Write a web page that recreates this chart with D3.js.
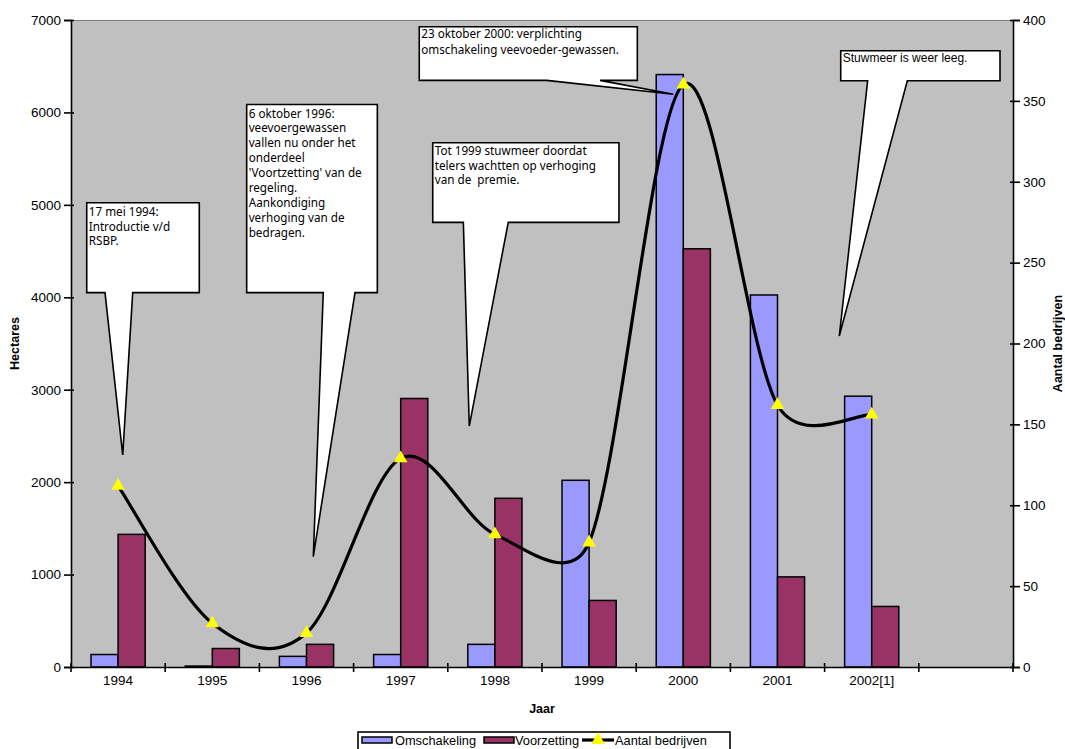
<!DOCTYPE html>
<html>
<head>
<meta charset="utf-8">
<script src="https://cdn.jsdelivr.net/npm/d3@7"></script>
<style>
  html, body { margin: 0; padding: 0; background: #fff; }
  svg { display: block; }
</style>
</head>
<body>
<svg id="chart" width="1065" height="749"></svg>
<script>
// ---- Data -------------------------------------------------------------
const categories = ['1994', '1995', '1996', '1997', '1998', '1999', '2000', '2001', '2002[1]', ''];
const omschakeling = [135, 10, 115, 135, 245, 2020, 6410, 4025, 2930];     // hectares
const voorzetting = [1435, 200, 245, 2905, 1825, 720, 4525, 975, 655];       // hectares
const aantalBedrijven = [112, 27, 21, 129, 82, 77, 360, 162, 156];           // number of farms
const hectareTicks = [0, 1000, 2000, 3000, 4000, 5000, 6000, 7000];
const bedrijvenTicks = [0, 50, 100, 150, 200, 250, 300, 350, 400];
const seriesLabels = ['Omschakeling', 'Voorzetting', 'Aantal bedrijven'];

// ---- Annotations (x in category widths from the left edge, y in hectares)
const callouts = [
  { lines: ['17 mei 1994:', 'Introductie v/d', 'RSBP.'],
    box: [0.167, 1.362, 5023, 4050], base: [0.361, 0.655], tip: [0.549, 2294], lh: 14.8, first: 13, font: 'sans' },
  { lines: ['6 oktober 1996:', 'veevoergewassen', 'vallen nu onder het', 'onderdeel',
            "'Voortzetting' van de", 'regeling.', 'Aankondiging', 'verhoging van de', 'bedragen.'],
    box: [1.865, 3.252, 6085, 4050], base: [2.678, 3.015], tip: [2.572, 1193], lh: 14.9, first: 13, font: 'sans' },
  { lines: ['Tot 1999 stuwmeer doordat', 'telers wachtten op verhoging', 'van de  premie.'],
    box: [3.840, 5.817, 5672, 4811], base: [4.165, 4.642], tip: [4.228, 2607], lh: 14.6, first: 12.5, font: 'sans' },
  { lines: ['23 oktober 2000: verplichting', 'omschakeling veevoeder-gewassen.'],
    box: [3.697, 6.012, 6927, 6347], base: [5.050, 5.616], tip: [6.394, 6196], lh: 16, first: 11.5, font: 'sans' },
  { lines: ['Stuwmeer is weer leeg.'],
    box: [8.171, 9.862, 6668, 6343], base: [8.457, 8.878], tip: [8.156, 3581], lh: 14, first: 11, font: 'arial' }
];

// ---- Layout & style ---------------------------------------------------
const plot = { left: 71, right: 1013, top: 20, bottom: 667 };
const colors = { omschakeling: '#9999FF', voorzetting: '#993366', plotBg: '#C0C0C0', marker: '#FFFF00' };
const arial = "'Liberation Sans', Arial, sans-serif";
const calloutFont = "'Noto Sans', 'DejaVu Sans', sans-serif";

const svg = d3.select('#chart');

// ---- Scales -----------------------------------------------------------
const x = d3.scaleBand().domain(categories).range([plot.left, plot.right]).padding(0);
const bw = x.bandwidth();
const groupW = bw * 0.575;
const x1 = d3.scaleBand().domain(['omschakeling', 'voorzetting'])
  .range([(bw - groupW) / 2, (bw + groupW) / 2]);
const yL = d3.scaleLinear().domain([0, 7000]).range([plot.bottom, plot.top]);
const yR = d3.scaleLinear().domain([0, 400]).range([plot.bottom, plot.top]);
const xu = d3.scaleLinear().domain([0, categories.length]).range([plot.left, plot.right]);

// Smoothed line: cubic Bézier segments with tangents (P[i+1]-P[i-1])/6,
// each control arm limited to half of its segment's length.
function smoothCurve(context) {
  let pts = [];
  return {
    areaStart() {}, areaEnd() {},
    lineStart() { pts = []; },
    point(px, py) { pts.push([+px, +py]); },
    lineEnd() {
      const n = pts.length;
      if (!n) return;
      context.moveTo(pts[0][0], pts[0][1]);
      for (let i = 0; i < n - 1; i++) {
        const p0 = pts[Math.max(i - 1, 0)], p1 = pts[i], p2 = pts[i + 1], p3 = pts[Math.min(i + 2, n - 1)];
        const half = Math.hypot(p2[0] - p1[0], p2[1] - p1[1]) / 2;
        let a = [(p2[0] - p0[0]) / 6, (p2[1] - p0[1]) / 6];
        let b = [(p3[0] - p1[0]) / 6, (p3[1] - p1[1]) / 6];
        const la = Math.hypot(a[0], a[1]), lb = Math.hypot(b[0], b[1]);
        if (la > half) a = a.map(v => v * half / la);
        if (lb > half) b = b.map(v => v * half / lb);
        context.bezierCurveTo(p1[0] + a[0], p1[1] + a[1], p2[0] - b[0], p2[1] - b[1], p2[0], p2[1]);
      }
    }
  };
}

// ---- Plot area ----------------------------------------------------------
svg.append('rect')
  .attr('x', plot.left).attr('y', plot.top)
  .attr('width', plot.right - plot.left).attr('height', plot.bottom - plot.top)
  .attr('fill', colors.plotBg);
svg.append('line')
  .attr('x1', plot.left).attr('x2', plot.right)
  .attr('y1', plot.top + 0.5).attr('y2', plot.top + 0.5)
  .attr('stroke', '#808080').attr('stroke-width', 1);

// ---- Bars ---------------------------------------------------------------
const barData = [];
omschakeling.forEach((v, i) => barData.push({ cat: categories[i], key: 'omschakeling', v }));
voorzetting.forEach((v, i) => barData.push({ cat: categories[i], key: 'voorzetting', v }));

svg.append('g').selectAll('rect').data(barData).join('rect')
  .attr('x', d => x(d.cat) + x1(d.key))
  .attr('width', x1.bandwidth())
  .attr('y', d => yL(d.v))
  .attr('height', d => yL(0) - yL(d.v))
  .attr('fill', d => colors[d.key])
  .attr('stroke', '#000').attr('stroke-width', 1.5);

// ---- Callouts -----------------------------------------------------------
callouts.forEach(c => {
  const L = xu(c.box[0]), R = xu(c.box[1]), T = yL(c.box[2]), B = yL(c.box[3]);
  const b0 = xu(c.base[0]), b1 = xu(c.base[1]);
  const tx = xu(c.tip[0]), ty = yL(c.tip[1]);
  const p = d3.path();
  p.moveTo(L, T); p.lineTo(R, T); p.lineTo(R, B); p.lineTo(b1, B);
  p.lineTo(tx, ty); p.lineTo(b0, B); p.lineTo(L, B); p.closePath();
  svg.append('path').attr('d', p.toString())
    .attr('fill', '#fff').attr('stroke', '#000').attr('stroke-width', 1.6)
    .attr('stroke-linejoin', 'miter');
  const t = svg.append('text')
    .attr('font-family', c.font === 'arial' ? arial : calloutFont)
    .attr('font-size', c.font === 'arial' ? 12 : 11.7)
    .attr('fill', '#000');
  c.lines.forEach((ln, i) => {
    t.append('tspan').attr('x', L + 2).attr('y', T + c.first + i * c.lh)
      .style('white-space', 'pre').text(ln);
  });
});

// ---- Line series --------------------------------------------------------
const pts = aantalBedrijven.map((v, i) => [x(categories[i]) + bw / 2, yR(v)]);
svg.append('path')
  .attr('d', d3.line().curve(smoothCurve)(pts))
  .attr('fill', 'none').attr('stroke', '#000').attr('stroke-width', 3.2)
  .attr('stroke-linejoin', 'round').attr('stroke-linecap', 'round');

const tri = d3.symbol().type(d3.symbolTriangle).size(80);
svg.append('g').selectAll('path').data(pts).join('path')
  .attr('transform', d => `translate(${d[0]},${d[1]})`)
  .attr('d', tri).attr('fill', colors.marker);

// ---- Axes ---------------------------------------------------------------
function styleAxis(g, inner, outer, sign) {
  g.select('.domain').attr('stroke', '#000').attr('stroke-width', 1.6);
  g.selectAll('.tick line').attr('stroke', '#000').attr('stroke-width', 1.6)
    .attr('x1', sign * inner).attr('x2', -sign * outer);
  g.selectAll('.tick text').attr('font-family', arial).attr('font-size', 13.5).attr('fill', '#000');
}

const gL = svg.append('g').attr('transform', `translate(${plot.left},0)`)
  .call(d3.axisLeft(yL).tickValues(hectareTicks).tickFormat(d3.format('d'))
    .tickSizeOuter(0).tickSize(7).tickPadding(3));
styleAxis(gL, 3, 7, 1);

const gR = svg.append('g').attr('transform', `translate(${plot.right},0)`)
  .call(d3.axisRight(yR).tickValues(bedrijvenTicks).tickFormat(d3.format('d'))
    .tickSizeOuter(0).tickSize(7).tickPadding(3));
styleAxis(gR, 3, 7, -1);

const gB = svg.append('g').attr('transform', `translate(0,${plot.bottom})`)
  .call(d3.axisBottom(x).tickSize(0).tickSizeOuter(0).tickPadding(18));
gB.select('.domain').attr('stroke', '#000').attr('stroke-width', 1.6);
gB.selectAll('.tick line').remove();
gB.selectAll('.tick text').attr('font-family', arial).attr('font-size', 13.5).attr('fill', '#000')
  .attr('dy', 0);
// tick marks on the category boundaries
gB.append('g').selectAll('line').data(d3.range(categories.length + 1)).join('line')
  .attr('x1', d => xu(d)).attr('x2', d => xu(d))
  .attr('y1', -4).attr('y2', 5)
  .attr('stroke', '#000').attr('stroke-width', 1.6);

// ---- Axis titles ------------------------------------------------------------
const midY = (plot.top + plot.bottom) / 2;
svg.append('text')
  .attr('transform', `translate(19,${midY}) rotate(-90)`)
  .attr('text-anchor', 'middle').attr('font-family', arial).attr('font-weight', 'bold')
  .attr('font-size', 12.5).text('Hectares');
svg.append('text')
  .attr('transform', `translate(1062,${midY}) rotate(-90)`)
  .attr('text-anchor', 'middle').attr('font-family', arial).attr('font-weight', 'bold')
  .attr('font-size', 12.5).text('Aantal bedrijven');
svg.append('text')
  .attr('x', (plot.left + plot.right) / 2).attr('y', 713)
  .attr('text-anchor', 'middle').attr('font-family', arial).attr('font-weight', 'bold')
  .attr('font-size', 12.5).text('Jaar');

// ---- Legend -------------------------------------------------------------
const legend = svg.append('g').attr('transform', 'translate(358,732)');
legend.append('rect').attr('x', 0).attr('y', 0).attr('width', 372).attr('height', 22)
  .attr('fill', '#fff').attr('stroke', '#000').attr('stroke-width', 1.6);
const legendItems = [
  { label: seriesLabels[0], kind: 'bar', color: colors.omschakeling, sx: 4, tx: 37 },
  { label: seriesLabels[1], kind: 'bar', color: colors.voorzetting, sx: 126, tx: 157 },
  { label: seriesLabels[2], kind: 'line', sx: 224, tx: 257 }
];
legendItems.forEach(it => {
  if (it.kind === 'bar') {
    legend.append('rect').attr('x', it.sx).attr('y', 5).attr('width', 30).attr('height', 6)
      .attr('fill', it.color).attr('stroke', '#000').attr('stroke-width', 1.5);
  } else {
    legend.append('line').attr('x1', it.sx).attr('x2', it.sx + 32).attr('y1', 8).attr('y2', 8)
      .attr('stroke', '#000').attr('stroke-width', 3.2);
    legend.append('path').attr('transform', `translate(${it.sx + 16},8)`)
      .attr('d', tri).attr('fill', colors.marker);
  }
  legend.append('text').attr('x', it.tx).attr('y', 13)
    .attr('font-family', arial).attr('font-size', 12.8).text(it.label);
});
</script>
</body>
</html>
